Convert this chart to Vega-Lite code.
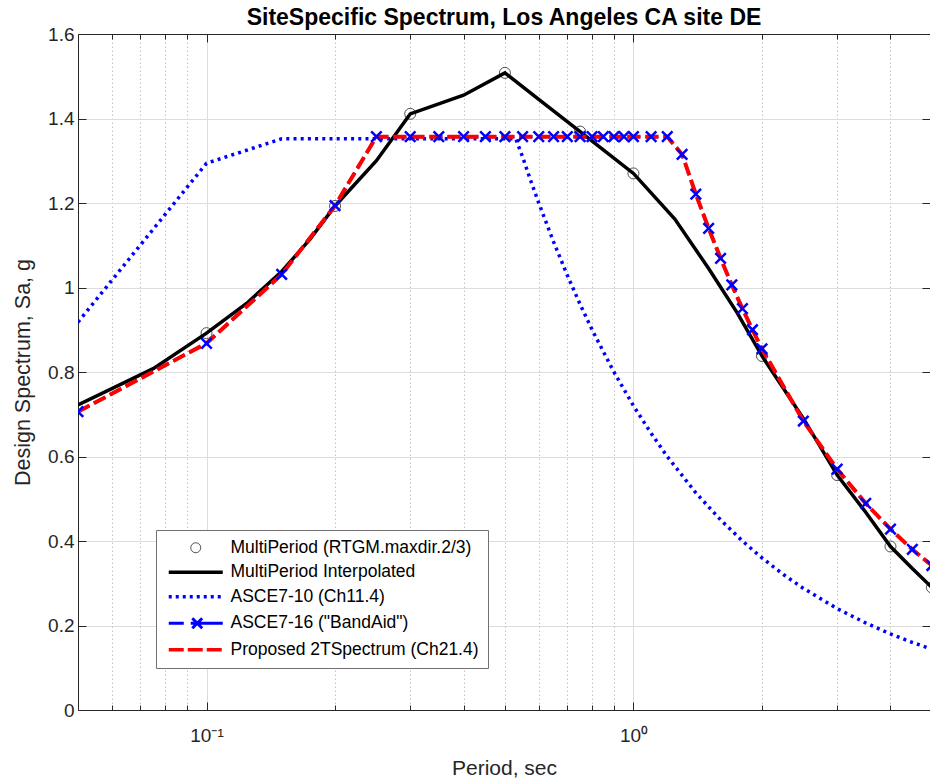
{
  "$schema": "https://vega.github.io/schema/vega-lite/v6.json",
  "width": 852,
  "height": 676,
  "autosize": {"type": "none"},
  "padding": {"left": 78, "top": 34, "right": 0, "bottom": 69},
  "background": "white",
  "config": {"font": "Liberation Sans", "view": {"stroke": null}},
  "title": {"text": "SiteSpecific Spectrum, Los Angeles CA site DE", "fontSize": 23, "fontWeight": "bold", "color": "#000000", "anchor": "middle", "offset": 7, "dy": 12},
  "data": {"values": [
    {"k": "A", "s": "MultiPeriod (RTGM.maxdir.2/3)", "T": 0.1, "Sa": 0.892},
    {"k": "A", "s": "MultiPeriod (RTGM.maxdir.2/3)", "T": 0.2, "Sa": 1.193},
    {"k": "A", "s": "MultiPeriod (RTGM.maxdir.2/3)", "T": 0.3, "Sa": 1.411},
    {"k": "A", "s": "MultiPeriod (RTGM.maxdir.2/3)", "T": 0.5, "Sa": 1.508},
    {"k": "A", "s": "MultiPeriod (RTGM.maxdir.2/3)", "T": 0.75, "Sa": 1.369},
    {"k": "A", "s": "MultiPeriod (RTGM.maxdir.2/3)", "T": 1.0, "Sa": 1.270},
    {"k": "A", "s": "MultiPeriod (RTGM.maxdir.2/3)", "T": 2.0, "Sa": 0.838},
    {"k": "A", "s": "MultiPeriod (RTGM.maxdir.2/3)", "T": 3.0, "Sa": 0.556},
    {"k": "A", "s": "MultiPeriod (RTGM.maxdir.2/3)", "T": 4.0, "Sa": 0.387},
    {"k": "A", "s": "MultiPeriod (RTGM.maxdir.2/3)", "T": 5.0, "Sa": 0.290},

    {"k": "B", "s": "MultiPeriod Interpolated", "T": 0.05, "Sa": 0.722},
    {"k": "B", "s": "MultiPeriod Interpolated", "T": 0.075, "Sa": 0.808},
    {"k": "B", "s": "MultiPeriod Interpolated", "T": 0.1, "Sa": 0.892},
    {"k": "B", "s": "MultiPeriod Interpolated", "T": 0.125, "Sa": 0.965},
    {"k": "B", "s": "MultiPeriod Interpolated", "T": 0.15, "Sa": 1.038},
    {"k": "B", "s": "MultiPeriod Interpolated", "T": 0.175, "Sa": 1.115},
    {"k": "B", "s": "MultiPeriod Interpolated", "T": 0.2, "Sa": 1.193},
    {"k": "B", "s": "MultiPeriod Interpolated", "T": 0.25, "Sa": 1.300},
    {"k": "B", "s": "MultiPeriod Interpolated", "T": 0.3, "Sa": 1.411},
    {"k": "B", "s": "MultiPeriod Interpolated", "T": 0.4, "Sa": 1.455},
    {"k": "B", "s": "MultiPeriod Interpolated", "T": 0.5, "Sa": 1.508},
    {"k": "B", "s": "MultiPeriod Interpolated", "T": 0.6, "Sa": 1.445},
    {"k": "B", "s": "MultiPeriod Interpolated", "T": 0.75, "Sa": 1.369},
    {"k": "B", "s": "MultiPeriod Interpolated", "T": 0.85, "Sa": 1.326},
    {"k": "B", "s": "MultiPeriod Interpolated", "T": 1.0, "Sa": 1.270},
    {"k": "B", "s": "MultiPeriod Interpolated", "T": 1.25, "Sa": 1.162},
    {"k": "B", "s": "MultiPeriod Interpolated", "T": 1.5, "Sa": 1.045},
    {"k": "B", "s": "MultiPeriod Interpolated", "T": 1.75, "Sa": 0.940},
    {"k": "B", "s": "MultiPeriod Interpolated", "T": 2.0, "Sa": 0.838},
    {"k": "B", "s": "MultiPeriod Interpolated", "T": 2.5, "Sa": 0.690},
    {"k": "B", "s": "MultiPeriod Interpolated", "T": 3.0, "Sa": 0.556},
    {"k": "B", "s": "MultiPeriod Interpolated", "T": 3.5, "Sa": 0.468},
    {"k": "B", "s": "MultiPeriod Interpolated", "T": 4.0, "Sa": 0.387},
    {"k": "B", "s": "MultiPeriod Interpolated", "T": 4.5, "Sa": 0.335},
    {"k": "B", "s": "MultiPeriod Interpolated", "T": 5.0, "Sa": 0.290},

    {"k": "C", "s": "ASCE7-10 (Ch11.4)", "T": 0.05, "Sa": 0.918},
    {"k": "C", "s": "ASCE7-10 (Ch11.4)", "T": 0.1, "Sa": 1.294},
    {"k": "C", "s": "ASCE7-10 (Ch11.4)", "T": 0.15, "Sa": 1.352},
    {"k": "C", "s": "ASCE7-10 (Ch11.4)", "T": 0.2, "Sa": 1.352},
    {"k": "C", "s": "ASCE7-10 (Ch11.4)", "T": 0.3, "Sa": 1.352},
    {"k": "C", "s": "ASCE7-10 (Ch11.4)", "T": 0.4, "Sa": 1.352},
    {"k": "C", "s": "ASCE7-10 (Ch11.4)", "T": 0.5, "Sa": 1.352},
    {"k": "C", "s": "ASCE7-10 (Ch11.4)", "T": 0.53, "Sa": 1.352},
    {"k": "C", "s": "ASCE7-10 (Ch11.4)", "T": 0.55, "Sa": 1.309},
    {"k": "C", "s": "ASCE7-10 (Ch11.4)", "T": 0.575, "Sa": 1.252},
    {"k": "C", "s": "ASCE7-10 (Ch11.4)", "T": 0.6, "Sa": 1.200},
    {"k": "C", "s": "ASCE7-10 (Ch11.4)", "T": 0.65, "Sa": 1.108},
    {"k": "C", "s": "ASCE7-10 (Ch11.4)", "T": 0.7, "Sa": 1.029},
    {"k": "C", "s": "ASCE7-10 (Ch11.4)", "T": 0.75, "Sa": 0.960},
    {"k": "C", "s": "ASCE7-10 (Ch11.4)", "T": 0.8, "Sa": 0.900},
    {"k": "C", "s": "ASCE7-10 (Ch11.4)", "T": 0.9, "Sa": 0.800},
    {"k": "C", "s": "ASCE7-10 (Ch11.4)", "T": 1.0, "Sa": 0.720},
    {"k": "C", "s": "ASCE7-10 (Ch11.4)", "T": 1.1, "Sa": 0.655},
    {"k": "C", "s": "ASCE7-10 (Ch11.4)", "T": 1.2, "Sa": 0.600},
    {"k": "C", "s": "ASCE7-10 (Ch11.4)", "T": 1.4, "Sa": 0.514},
    {"k": "C", "s": "ASCE7-10 (Ch11.4)", "T": 1.6, "Sa": 0.450},
    {"k": "C", "s": "ASCE7-10 (Ch11.4)", "T": 1.8, "Sa": 0.400},
    {"k": "C", "s": "ASCE7-10 (Ch11.4)", "T": 2.0, "Sa": 0.360},
    {"k": "C", "s": "ASCE7-10 (Ch11.4)", "T": 2.25, "Sa": 0.320},
    {"k": "C", "s": "ASCE7-10 (Ch11.4)", "T": 2.5, "Sa": 0.288},
    {"k": "C", "s": "ASCE7-10 (Ch11.4)", "T": 3.0, "Sa": 0.240},
    {"k": "C", "s": "ASCE7-10 (Ch11.4)", "T": 3.5, "Sa": 0.206},
    {"k": "C", "s": "ASCE7-10 (Ch11.4)", "T": 4.0, "Sa": 0.180},
    {"k": "C", "s": "ASCE7-10 (Ch11.4)", "T": 4.5, "Sa": 0.160},
    {"k": "C", "s": "ASCE7-10 (Ch11.4)", "T": 5.0, "Sa": 0.144},

    {"k": "D", "s": "ASCE7-16 (\"BandAid\")", "T": 0.05, "Sa": 0.706},
    {"k": "D", "s": "ASCE7-16 (\"BandAid\")", "T": 0.1, "Sa": 0.868},
    {"k": "D", "s": "ASCE7-16 (\"BandAid\")", "T": 0.15, "Sa": 1.031},
    {"k": "D", "s": "ASCE7-16 (\"BandAid\")", "T": 0.2, "Sa": 1.194},
    {"k": "D", "s": "ASCE7-16 (\"BandAid\")", "T": 0.25, "Sa": 1.357},
    {"k": "D", "s": "ASCE7-16 (\"BandAid\")", "T": 0.3, "Sa": 1.357},
    {"k": "D", "s": "ASCE7-16 (\"BandAid\")", "T": 0.35, "Sa": 1.357},
    {"k": "D", "s": "ASCE7-16 (\"BandAid\")", "T": 0.4, "Sa": 1.357},
    {"k": "D", "s": "ASCE7-16 (\"BandAid\")", "T": 0.45, "Sa": 1.357},
    {"k": "D", "s": "ASCE7-16 (\"BandAid\")", "T": 0.5, "Sa": 1.357},
    {"k": "D", "s": "ASCE7-16 (\"BandAid\")", "T": 0.55, "Sa": 1.357},
    {"k": "D", "s": "ASCE7-16 (\"BandAid\")", "T": 0.6, "Sa": 1.357},
    {"k": "D", "s": "ASCE7-16 (\"BandAid\")", "T": 0.65, "Sa": 1.357},
    {"k": "D", "s": "ASCE7-16 (\"BandAid\")", "T": 0.7, "Sa": 1.357},
    {"k": "D", "s": "ASCE7-16 (\"BandAid\")", "T": 0.75, "Sa": 1.357},
    {"k": "D", "s": "ASCE7-16 (\"BandAid\")", "T": 0.8, "Sa": 1.357},
    {"k": "D", "s": "ASCE7-16 (\"BandAid\")", "T": 0.85, "Sa": 1.357},
    {"k": "D", "s": "ASCE7-16 (\"BandAid\")", "T": 0.9, "Sa": 1.357},
    {"k": "D", "s": "ASCE7-16 (\"BandAid\")", "T": 0.95, "Sa": 1.357},
    {"k": "D", "s": "ASCE7-16 (\"BandAid\")", "T": 1.0, "Sa": 1.357},
    {"k": "D", "s": "ASCE7-16 (\"BandAid\")", "T": 1.1, "Sa": 1.357},
    {"k": "D", "s": "ASCE7-16 (\"BandAid\")", "T": 1.2, "Sa": 1.357},
    {"k": "D", "s": "ASCE7-16 (\"BandAid\")", "T": 1.3, "Sa": 1.315},
    {"k": "D", "s": "ASCE7-16 (\"BandAid\")", "T": 1.4, "Sa": 1.221},
    {"k": "D", "s": "ASCE7-16 (\"BandAid\")", "T": 1.5, "Sa": 1.140},
    {"k": "D", "s": "ASCE7-16 (\"BandAid\")", "T": 1.6, "Sa": 1.069},
    {"k": "D", "s": "ASCE7-16 (\"BandAid\")", "T": 1.7, "Sa": 1.006},
    {"k": "D", "s": "ASCE7-16 (\"BandAid\")", "T": 1.8, "Sa": 0.950},
    {"k": "D", "s": "ASCE7-16 (\"BandAid\")", "T": 1.9, "Sa": 0.900},
    {"k": "D", "s": "ASCE7-16 (\"BandAid\")", "T": 2.0, "Sa": 0.855},
    {"k": "D", "s": "ASCE7-16 (\"BandAid\")", "T": 2.5, "Sa": 0.684},
    {"k": "D", "s": "ASCE7-16 (\"BandAid\")", "T": 3.0, "Sa": 0.570},
    {"k": "D", "s": "ASCE7-16 (\"BandAid\")", "T": 3.5, "Sa": 0.489},
    {"k": "D", "s": "ASCE7-16 (\"BandAid\")", "T": 4.0, "Sa": 0.428},
    {"k": "D", "s": "ASCE7-16 (\"BandAid\")", "T": 4.5, "Sa": 0.380},
    {"k": "D", "s": "ASCE7-16 (\"BandAid\")", "T": 5.0, "Sa": 0.342},

    {"k": "E", "s": "Proposed 2TSpectrum (Ch21.4)", "T": 0.05, "Sa": 0.706},
    {"k": "E", "s": "Proposed 2TSpectrum (Ch21.4)", "T": 0.1, "Sa": 0.868},
    {"k": "E", "s": "Proposed 2TSpectrum (Ch21.4)", "T": 0.15, "Sa": 1.031},
    {"k": "E", "s": "Proposed 2TSpectrum (Ch21.4)", "T": 0.2, "Sa": 1.194},
    {"k": "E", "s": "Proposed 2TSpectrum (Ch21.4)", "T": 0.25, "Sa": 1.357},
    {"k": "E", "s": "Proposed 2TSpectrum (Ch21.4)", "T": 0.5, "Sa": 1.357},
    {"k": "E", "s": "Proposed 2TSpectrum (Ch21.4)", "T": 1.0, "Sa": 1.357},
    {"k": "E", "s": "Proposed 2TSpectrum (Ch21.4)", "T": 1.2, "Sa": 1.357},
    {"k": "E", "s": "Proposed 2TSpectrum (Ch21.4)", "T": 1.3, "Sa": 1.315},
    {"k": "E", "s": "Proposed 2TSpectrum (Ch21.4)", "T": 1.4, "Sa": 1.221},
    {"k": "E", "s": "Proposed 2TSpectrum (Ch21.4)", "T": 1.5, "Sa": 1.140},
    {"k": "E", "s": "Proposed 2TSpectrum (Ch21.4)", "T": 1.6, "Sa": 1.069},
    {"k": "E", "s": "Proposed 2TSpectrum (Ch21.4)", "T": 1.7, "Sa": 1.006},
    {"k": "E", "s": "Proposed 2TSpectrum (Ch21.4)", "T": 1.8, "Sa": 0.950},
    {"k": "E", "s": "Proposed 2TSpectrum (Ch21.4)", "T": 1.9, "Sa": 0.900},
    {"k": "E", "s": "Proposed 2TSpectrum (Ch21.4)", "T": 2.0, "Sa": 0.855},
    {"k": "E", "s": "Proposed 2TSpectrum (Ch21.4)", "T": 2.5, "Sa": 0.684},
    {"k": "E", "s": "Proposed 2TSpectrum (Ch21.4)", "T": 3.0, "Sa": 0.570},
    {"k": "E", "s": "Proposed 2TSpectrum (Ch21.4)", "T": 3.5, "Sa": 0.489},
    {"k": "E", "s": "Proposed 2TSpectrum (Ch21.4)", "T": 4.0, "Sa": 0.428},
    {"k": "E", "s": "Proposed 2TSpectrum (Ch21.4)", "T": 4.5, "Sa": 0.380},
    {"k": "E", "s": "Proposed 2TSpectrum (Ch21.4)", "T": 5.0, "Sa": 0.342}
  ]},
  "resolve": {"axis": {"x": "independent", "y": "independent"}},
  "layer": [
    {
      "transform": [{"filter": "datum.k === 'A'"}],
      "mark": {"type": "point", "shape": "circle", "filled": false, "size": 121, "strokeWidth": 1, "opacity": 1, "color": "#505050", "clip": true},
      "encoding": {
        "x": {"field": "T", "type": "quantitative",
          "scale": {"type": "log", "domain": [0.05, 4.95], "nice": false},
          "axis": {"orient": "top", "values": [0.06,0.07,0.08,0.09,0.1,0.2,0.3,0.4,0.5,0.6,0.7,0.8,0.9,1,2,3,4],
            "labels": false, "grid": false, "title": null, "domain": true, "domainColor": "#262626",
            "tickColor": "#262626",
            "tickSize": {"condition": {"test": "datum.value == 0.1 || datum.value == 1", "value": -8}, "value": -5}}},
        "y": {"field": "Sa", "type": "quantitative",
          "scale": {"domain": [0, 1.6], "nice": false, "zero": false},
          "axis": {"orient": "right", "values": [0,0.2,0.4,0.6,0.8,1,1.2,1.4,1.6], "labels": false, "grid": false,
            "title": null, "domain": false, "tickColor": "#262626", "tickSize": -8}}
      }
    },
    {
      "transform": [{"filter": "datum.k === 'B'"}],
      "mark": {"type": "line", "strokeWidth": 3.5, "color": "#000000", "clip": true},
      "encoding": {
        "x": {"field": "T", "type": "quantitative",
          "axis": {"orient": "bottom", "values": [0.06,0.07,0.08,0.09,0.1,0.2,0.3,0.4,0.5,0.6,0.7,0.8,0.9,1,2,3,4],
            "labelExpr": "datum.value == 0.1 ? '10⁻¹' : datum.value == 1 ? '10⁰' : ''",
            "grid": true,
            "gridColor": {"condition": {"test": "datum.value == 0.1 || datum.value == 1", "value": "#dddddd"}, "value": "#c4c4c4"},
            "gridDash": {"condition": {"test": "datum.value == 0.1 || datum.value == 1", "value": []}, "value": [1.5, 2.5]},
            "gridWidth": 1,
            "tickSize": {"condition": {"test": "datum.value == 0.1 || datum.value == 1", "value": -8}, "value": -5},
            "tickColor": "#262626", "domainColor": "#262626",
            "labelFont": "Liberation Sans", "labelFontSize": 19, "labelColor": "#262626", "labelPadding": 24,
            "title": "Period, sec", "titleFont": "Liberation Sans", "titleFontSize": 21, "titleFontWeight": "normal",
            "titleColor": "#262626", "titlePadding": 12}},
        "y": {"field": "Sa", "type": "quantitative",
          "axis": {"orient": "left", "values": [0,0.2,0.4,0.6,0.8,1,1.2,1.4,1.6], "format": "~g",
            "grid": true, "gridColor": "#dddddd", "gridWidth": 1,
            "tickSize": -8, "tickColor": "#262626", "domainColor": "#262626",
            "labelFont": "Liberation Sans", "labelFontSize": 19, "labelColor": "#262626", "labelPadding": 12,
            "title": "Design Spectrum, Sa, g", "titleFont": "Liberation Sans", "titleFontSize": 21.5, "titleFontWeight": "normal",
            "titleColor": "#262626", "titlePadding": 13}}
      }
    },
    {
      "transform": [{"filter": "datum.k === 'C'"}],
      "mark": {"type": "line", "strokeWidth": 3.5, "strokeDash": [3, 4.2], "strokeCap": "butt", "color": "#0000ff", "clip": true},
      "encoding": {
        "x": {"field": "T", "type": "quantitative", "axis": null},
        "y": {"field": "Sa", "type": "quantitative", "axis": null}
      }
    },
    {
      "transform": [{"filter": "datum.k === 'D'"}],
      "mark": {"type": "line", "strokeWidth": 3, "strokeDash": [13, 5], "color": "#0000ff", "clip": true},
      "encoding": {
        "x": {"field": "T", "type": "quantitative", "axis": null},
        "y": {"field": "Sa", "type": "quantitative", "axis": null}
      }
    },
    {
      "transform": [{"filter": "datum.k === 'E'"}],
      "mark": {"type": "line", "strokeWidth": 4, "strokeDash": [13, 5], "color": "#ff0000", "clip": true},
      "encoding": {
        "x": {"field": "T", "type": "quantitative", "axis": null},
        "y": {"field": "Sa", "type": "quantitative", "axis": null}
      }
    },
    {
      "transform": [{"filter": "datum.k === 'D'"}],
      "mark": {"type": "point", "shape": "M-1,-1L1,1M-1,1L1,-1", "filled": false, "size": 110, "strokeWidth": 2.5, "opacity": 1, "color": "#0000ff", "clip": true},
      "encoding": {
        "x": {"field": "T", "type": "quantitative", "axis": null},
        "y": {"field": "Sa", "type": "quantitative", "axis": null}
      }
    },
    {
      "transform": [{"filter": "false"}],
      "mark": {"type": "point", "filled": false, "opacity": 1, "size": 121},
      "encoding": {
        "x": {"field": "T", "type": "quantitative", "axis": null},
        "y": {"field": "Sa", "type": "quantitative", "axis": null},
        "color": {"field": "s", "type": "nominal",
          "scale": {"domain": ["MultiPeriod (RTGM.maxdir.2/3)", "MultiPeriod Interpolated", "ASCE7-10 (Ch11.4)", "ASCE7-16 (\"BandAid\")", "Proposed 2TSpectrum (Ch21.4)"],
                    "range": ["#505050", "#000000", "#0000ff", "#0000ff", "#ff0000"]},
          "legend": {"title": null, "orient": "none", "legendX": 78, "legendY": 496,
            "padding": 9, "fillColor": "#ffffff", "strokeColor": "#707070",
            "labelFont": "Liberation Sans", "labelFontSize": 17.5, "labelColor": "#000000", "labelLimit": 400,
            "labelOffset": 48, "rowPadding": 5.5, "symbolSize": 121, "symbolOpacity": 1}},
        "shape": {"field": "s", "type": "nominal",
          "scale": {"domain": ["MultiPeriod (RTGM.maxdir.2/3)", "MultiPeriod Interpolated", "ASCE7-10 (Ch11.4)", "ASCE7-16 (\"BandAid\")", "Proposed 2TSpectrum (Ch21.4)"],
                    "range": ["M4.91,0A0.91,0.91,0,1,1,3.09,0A0.91,0.91,0,1,1,4.91,0Z", "M-0.91,0L8.91,0", "M-0.91,0L8.91,0", "M-0.91,0L1.82,0M3.09,0L8.91,0M3.37,-0.9L5.17,0.9M3.37,0.9L5.17,-0.9", "M-0.91,0L8.91,0"]}},
        "strokeDash": {"field": "s", "type": "nominal",
          "scale": {"domain": ["MultiPeriod (RTGM.maxdir.2/3)", "MultiPeriod Interpolated", "ASCE7-10 (Ch11.4)", "ASCE7-16 (\"BandAid\")", "Proposed 2TSpectrum (Ch21.4)"],
                    "range": [[100, 0], [100, 0], [3, 4], [100, 0], [15, 4]]}},
        "strokeWidth": {"field": "s", "type": "nominal",
          "scale": {"type": "ordinal", "domain": ["MultiPeriod (RTGM.maxdir.2/3)", "MultiPeriod Interpolated", "ASCE7-10 (Ch11.4)", "ASCE7-16 (\"BandAid\")", "Proposed 2TSpectrum (Ch21.4)"],
                    "range": [1, 3.5, 3.5, 3, 3.5]}}
      }
    }
  ]
}
